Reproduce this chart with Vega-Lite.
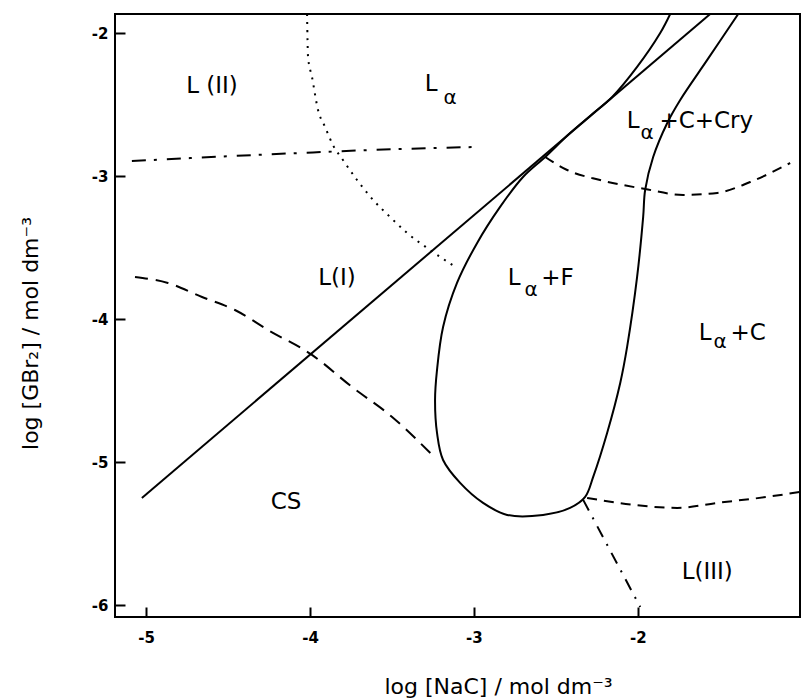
{
  "$schema": "https://vega.github.io/schema/vega-lite/v6.json",
  "width": 685,
  "height": 603,
  "autosize": {"type": "none"},
  "padding": {"left": 115, "top": 14, "right": 1, "bottom": 82},
  "background": "white",
  "config": {
    "font": "DejaVu Sans",
    "view": {"stroke": "black", "strokeWidth": 2},
    "axis": {"grid": false, "domain": false, "tickColor": "black", "tickWidth": 2, "tickSize": -10, "labelColor": "black", "labelFontSize": 15, "labelFontWeight": "bold", "titleColor": "black", "titleFontSize": 22, "titleFontWeight": "normal"}
  },
  "datasets": {
    "curves": [
      {"s": "A", "k": "dashdot", "o": 1, "x": -5.087, "y": -2.894},
      {"s": "A", "k": "dashdot", "o": 2, "x": -4.061, "y": -2.838},
      {"s": "A", "k": "dashdot", "o": 3, "x": -3.451, "y": -2.81},
      {"s": "A", "k": "dashdot", "o": 4, "x": -2.98, "y": -2.796},

      {"s": "B", "k": "dotted", "o": 1, "x": -4.018, "y": -1.866},
      {"s": "B", "k": "dotted", "o": 2, "x": -4.012, "y": -2.166},
      {"s": "B", "k": "dotted", "o": 3, "x": -3.988, "y": -2.306},
      {"s": "B", "k": "dotted", "o": 4, "x": -3.951, "y": -2.537},
      {"s": "B", "k": "dotted", "o": 5, "x": -3.908, "y": -2.656},
      {"s": "B", "k": "dotted", "o": 6, "x": -3.86, "y": -2.782},
      {"s": "B", "k": "dotted", "o": 7, "x": -3.799, "y": -2.887},
      {"s": "B", "k": "dotted", "o": 8, "x": -3.713, "y": -3.027},
      {"s": "B", "k": "dotted", "o": 9, "x": -3.615, "y": -3.166},
      {"s": "B", "k": "dotted", "o": 10, "x": -3.512, "y": -3.285},
      {"s": "B", "k": "dotted", "o": 11, "x": -3.408, "y": -3.397},
      {"s": "B", "k": "dotted", "o": 12, "x": -3.268, "y": -3.516},
      {"s": "B", "k": "dotted", "o": 13, "x": -3.103, "y": -3.642},

      {"s": "C", "k": "dashed", "o": 1, "x": -5.068, "y": -3.705},
      {"s": "C", "k": "dashed", "o": 2, "x": -4.867, "y": -3.747},
      {"s": "C", "k": "dashed", "o": 3, "x": -4.659, "y": -3.845},
      {"s": "C", "k": "dashed", "o": 4, "x": -4.458, "y": -3.936},
      {"s": "C", "k": "dashed", "o": 5, "x": -4.256, "y": -4.076},
      {"s": "C", "k": "dashed", "o": 6, "x": -3.988, "y": -4.25},
      {"s": "C", "k": "dashed", "o": 7, "x": -3.744, "y": -4.474},
      {"s": "C", "k": "dashed", "o": 8, "x": -3.499, "y": -4.684},
      {"s": "C", "k": "dashed", "o": 9, "x": -3.255, "y": -4.949},

      {"s": "F", "k": "dashed2", "o": 1, "x": -2.565, "y": -2.866},
      {"s": "F", "k": "dashed2", "o": 2, "x": -2.431, "y": -2.957},
      {"s": "F", "k": "dashed2", "o": 3, "x": -2.23, "y": -3.027},
      {"s": "F", "k": "dashed2", "o": 4, "x": -1.955, "y": -3.09},
      {"s": "F", "k": "dashed2", "o": 5, "x": -1.723, "y": -3.131},
      {"s": "F", "k": "dashed2", "o": 6, "x": -1.515, "y": -3.117},
      {"s": "F", "k": "dashed2", "o": 7, "x": -1.314, "y": -3.041},
      {"s": "F", "k": "dashed2", "o": 8, "x": -1.07, "y": -2.908},

      {"s": "G", "k": "dashed2", "o": 1, "x": -2.309, "y": -5.25},
      {"s": "G", "k": "dashed2", "o": 2, "x": -2.028, "y": -5.299},
      {"s": "G", "k": "dashed2", "o": 3, "x": -1.759, "y": -5.32},
      {"s": "G", "k": "dashed2", "o": 4, "x": -1.515, "y": -5.285},
      {"s": "G", "k": "dashed2", "o": 5, "x": -1.21, "y": -5.243},
      {"s": "G", "k": "dashed2", "o": 6, "x": -1.008, "y": -5.208},

      {"s": "H", "k": "dashdot2", "o": 1, "x": -2.333, "y": -5.264},
      {"s": "H", "k": "dashdot2", "o": 2, "x": -1.985, "y": -6.013}
    ],
    "loop": [
      {"s": "D", "k": "solid", "o": 1, "x": -5.026, "y": -5.25},
      {"s": "D", "k": "solid", "o": 2, "x": -1.558, "y": -1.866},

      {"s": "E", "k": "solid", "o": 1, "x": -1.802, "y": -1.866},
      {"s": "E", "k": "solid", "o": 2, "x": -1.863, "y": -1.999},
      {"s": "E", "k": "solid", "o": 3, "x": -2.004, "y": -2.236},
      {"s": "E", "k": "solid", "o": 4, "x": -2.156, "y": -2.446},
      {"s": "E", "k": "solid", "o": 5, "x": -2.284, "y": -2.572},
      {"s": "E", "k": "solid", "o": 6, "x": -2.413, "y": -2.698},
      {"s": "E", "k": "solid", "o": 7, "x": -2.565, "y": -2.866},
      {"s": "E", "k": "solid", "o": 8, "x": -2.7, "y": -3.006},
      {"s": "E", "k": "solid", "o": 9, "x": -2.84, "y": -3.215},
      {"s": "E", "k": "solid", "o": 10, "x": -2.98, "y": -3.467},
      {"s": "E", "k": "solid", "o": 11, "x": -3.103, "y": -3.747},
      {"s": "E", "k": "solid", "o": 12, "x": -3.188, "y": -4.055},
      {"s": "E", "k": "solid", "o": 13, "x": -3.225, "y": -4.355},
      {"s": "E", "k": "solid", "o": 14, "x": -3.237, "y": -4.565},
      {"s": "E", "k": "solid", "o": 15, "x": -3.225, "y": -4.796},
      {"s": "E", "k": "solid", "o": 16, "x": -3.188, "y": -4.985},
      {"s": "E", "k": "solid", "o": 17, "x": -3.084, "y": -5.145},
      {"s": "E", "k": "solid", "o": 18, "x": -2.944, "y": -5.285},
      {"s": "E", "k": "solid", "o": 19, "x": -2.797, "y": -5.369},
      {"s": "E", "k": "solid", "o": 20, "x": -2.578, "y": -5.369},
      {"s": "E", "k": "solid", "o": 21, "x": -2.413, "y": -5.32},
      {"s": "E", "k": "solid", "o": 22, "x": -2.321, "y": -5.243},
      {"s": "E", "k": "solid", "o": 23, "x": -2.272, "y": -5.103},
      {"s": "E", "k": "solid", "o": 24, "x": -2.187, "y": -4.796},
      {"s": "E", "k": "solid", "o": 25, "x": -2.107, "y": -4.446},
      {"s": "E", "k": "solid", "o": 26, "x": -2.065, "y": -4.194},
      {"s": "E", "k": "solid", "o": 27, "x": -2.004, "y": -3.705},
      {"s": "E", "k": "solid", "o": 28, "x": -1.967, "y": -3.285},
      {"s": "E", "k": "solid", "o": 29, "x": -1.955, "y": -3.097},
      {"s": "E", "k": "solid", "o": 30, "x": -1.906, "y": -2.866},
      {"s": "E", "k": "solid", "o": 31, "x": -1.82, "y": -2.628},
      {"s": "E", "k": "solid", "o": 32, "x": -1.741, "y": -2.467},
      {"s": "E", "k": "solid", "o": 33, "x": -1.576, "y": -2.187},
      {"s": "E", "k": "solid", "o": 34, "x": -1.387, "y": -1.866}
    ],
    "labels": [
      {"t": "L (II)", "x": -4.598, "y": -2.369},
      {"t": "L", "x": -3.261, "y": -2.355},
      {"t": "L(I)", "x": -3.835, "y": -3.712},
      {"t": "L", "x": -2.755, "y": -3.712},
      {"t": "+F", "x": -2.49, "y": -3.712},
      {"t": "L", "x": -2.028, "y": -2.614},
      {"t": "+C+Cry", "x": -1.582, "y": -2.614},
      {"t": "L", "x": -1.589, "y": -4.097},
      {"t": "+C", "x": -1.326, "y": -4.097},
      {"t": "CS", "x": -4.146, "y": -5.278},
      {"t": "L(III)", "x": -1.576, "y": -5.768}
    ],
    "subs": [
      {"t": "α", "x": -3.145, "y": -2.453},
      {"t": "α", "x": -2.651, "y": -3.796},
      {"t": "α", "x": -1.943, "y": -2.698},
      {"t": "α", "x": -1.497, "y": -4.159}
    ]
  },
  "layer": [
    {
      "data": {"name": "curves"},
      "mark": {"type": "line", "interpolate": "monotone", "clip": true, "color": "black", "strokeWidth": 2},
      "encoding": {
        "x": {"field": "x", "type": "quantitative", "scale": {"domain": [-5.19, -1.01], "nice": false, "zero": false},
          "axis": {"values": [-5, -4, -3, -2, -1], "labelPadding": 23, "labelExpr": "'-' + format(abs(datum.value), 'd')",
            "title": "log [NaC] / mol dm⁻³", "titleX": 383, "titleY": 76, "titleBaseline": "alphabetic", "titleAlign": "center"}},
        "y": {"field": "y", "type": "quantitative", "scale": {"domain": [-6.083, -1.866], "nice": false, "zero": false},
          "axis": {"values": [-2, -3, -4, -5, -6], "labelPadding": 17, "labelExpr": "'-' + format(abs(datum.value), 'd')",
            "title": "log [GBr₂] / mol dm⁻³", "titleAngle": -90, "titleX": -85, "titleY": 319, "titleAlign": "center", "titleBaseline": "middle"}},
        "detail": {"field": "s", "type": "nominal"},
        "order": {"field": "o", "type": "quantitative"},
        "strokeDash": {"field": "k", "type": "nominal", "legend": null,
          "scale": {"domain": ["solid", "dotted", "dashed", "dashed2", "dashdot", "dashdot2"],
            "range": [[1, 0], [2, 6], [13, 8], [10, 7], [14, 8, 3, 10], [12, 8, 2, 8]]}}
      }
    },
    {
      "data": {"name": "loop"},
      "mark": {"type": "line", "interpolate": "catmull-rom", "clip": true, "color": "black", "strokeWidth": 2},
      "encoding": {
        "x": {"field": "x", "type": "quantitative"},
        "y": {"field": "y", "type": "quantitative"},
        "detail": {"field": "s", "type": "nominal"},
        "order": {"field": "o", "type": "quantitative"}
      }
    },
    {
      "data": {"name": "labels"},
      "mark": {"type": "text", "fontSize": 23, "color": "black", "align": "center", "baseline": "middle"},
      "encoding": {
        "x": {"field": "x", "type": "quantitative"},
        "y": {"field": "y", "type": "quantitative"},
        "text": {"field": "t", "type": "nominal"}
      }
    },
    {
      "data": {"name": "subs"},
      "mark": {"type": "text", "fontSize": 20, "color": "black", "align": "center", "baseline": "middle"},
      "encoding": {
        "x": {"field": "x", "type": "quantitative"},
        "y": {"field": "y", "type": "quantitative"},
        "text": {"field": "t", "type": "nominal"}
      }
    }
  ]
}
